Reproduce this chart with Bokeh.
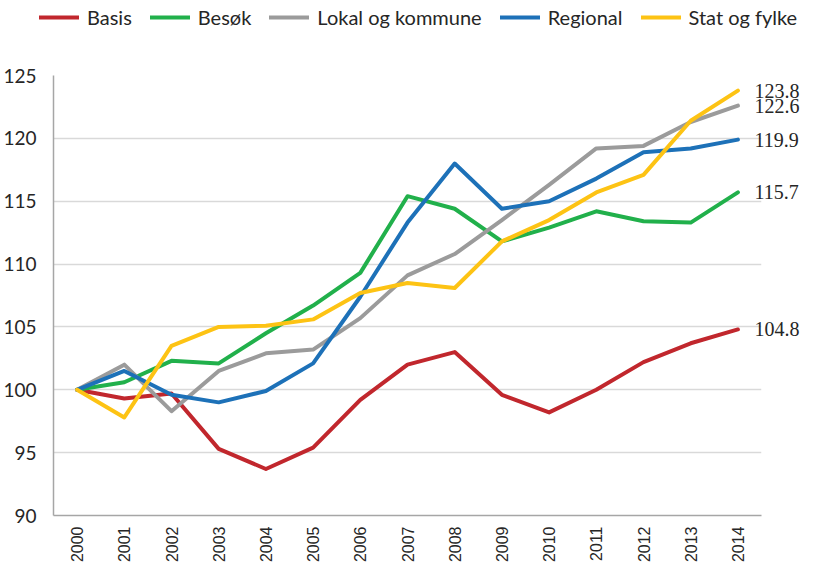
from bokeh.plotting import figure
from bokeh.models import (ColumnDataSource, Legend, LegendItem, LinearAxis,
                          FixedTicker, Range1d, FactorRange, PrintfTickFormatter)
from bokeh.embed import file_html
from bokeh.resources import INLINE
import math

years = [str(y) for y in range(2000, 2015)]

basis = [100.0, 99.3, 99.7, 95.3, 93.7, 95.4, 99.2, 102.0, 103.0, 99.6, 98.2, 100.0, 102.2, 103.7, 104.8]
besok = [100.0, 100.6, 102.3, 102.1, 104.5, 106.7, 109.3, 115.4, 114.4, 111.8, 112.9, 114.2, 113.4, 113.3, 115.7]
lokal = [100.0, 102.0, 98.3, 101.5, 102.9, 103.2, 105.7, 109.1, 110.8, 113.5, 116.3, 119.2, 119.4, 121.3, 122.6]
regional = [100.0, 101.5, 99.6, 99.0, 99.9, 102.1, 107.4, 113.3, 118.0, 114.4, 115.0, 116.8, 118.9, 119.2, 119.9]
stat = [100.0, 97.8, 103.5, 105.0, 105.1, 105.6, 107.7, 108.5, 108.1, 111.8, 113.5, 115.7, 117.1, 121.4, 123.8]

series_names = ["Basis", "Besøk", "Lokal og kommune", "Regional", "Stat og fylke"]
series_values = [basis, besok, lokal, regional, stat]
colors = ["#C1272D", "#21B04B", "#9B9B9B", "#1D71B8", "#FDC314"]
y_ticks = [90, 95, 100, 105, 110, 115, 120, 125]

sources = [ColumnDataSource(dict(x=years, y=vals)) for vals in series_values]

# ---------- main chart ----------
p = figure(x_range=FactorRange(factors=years, range_padding=0),
           y_range=Range1d(90, 125),
           width=806, height=526,
           output_backend="svg", toolbar_location=None,
           min_border_left=50, min_border_right=45,
           min_border_top=35, min_border_bottom=51)
p.outline_line_color = None
p.background_fill_color = "white"
p.border_fill_color = "white"

for src, col in zip(sources, colors):
    p.line("x", "y", source=src, line_color=col, line_width=4,
           line_cap="round", line_join="round")

# end-value labels drawn as a right-hand axis at the final values
end_values = [v[-1] for v in series_values]
end_axis = LinearAxis(ticker=FixedTicker(ticks=end_values),
                      formatter=PrintfTickFormatter(format="%.1f"),
                      axis_label=None)
end_axis.axis_label_standoff = 0
end_axis.axis_label_text_font_size = "0px"
end_axis.axis_line_color = None
end_axis.major_tick_line_color = None
end_axis.minor_tick_line_color = None
end_axis.major_tick_out = 0
end_axis.major_tick_in = 0
end_axis.minor_tick_out = 0
end_axis.minor_tick_in = 0
end_axis.major_label_standoff = -7
end_axis.major_label_text_font = "Liberation Serif"
end_axis.major_label_text_font_size = "20px"
end_axis.major_label_text_color = "#262626"
p.add_layout(end_axis, "right")

left = p.left[0]
left.ticker = FixedTicker(ticks=y_ticks)
left.major_tick_line_color = None
left.minor_tick_line_color = None
left.major_tick_out = 0
left.axis_line_color = "#A6A6A6"
left.axis_line_width = 1.5
left.major_label_text_font = "Lato"
left.major_label_text_font_size = "19px"
left.major_label_text_color = "#262626"
left.major_label_standoff = 17

bottom = p.below[0]
bottom.major_tick_line_color = None
bottom.minor_tick_line_color = None
bottom.major_tick_out = 0
bottom.axis_line_color = "#A6A6A6"
bottom.axis_line_width = 1.5
bottom.major_label_orientation = math.pi / 2
bottom.major_label_text_font = "Liberation Sans"
bottom.major_label_text_font_size = "16px"
bottom.major_label_text_color = "#262626"
bottom.major_label_standoff = 11

p.xgrid.grid_line_color = None
p.ygrid.grid_line_color = "#D9D9D9"
p.ygrid.grid_line_width = 1.5

# ---------- legend strip (separate root, lines fall outside its y range) ----------
lg = figure(width=806, height=40,
            x_range=FactorRange(factors=years, range_padding=0),
            y_range=Range1d(0, 1),
            x_axis_type=None, y_axis_type=None,
            output_backend="svg", toolbar_location=None,
            min_border_left=39, min_border_right=0,
            min_border_top=5, min_border_bottom=0)
lg.outline_line_color = None
lg.xgrid.visible = False
lg.ygrid.visible = False

items = []
for name, src, col in zip(series_names, sources, colors):
    r = lg.line("x", "y", source=src, line_color=col, line_width=4, line_cap="round")
    items.append(LegendItem(label=name, renderers=[r]))

legend = Legend(items=items, orientation="horizontal", location="top_left",
                glyph_width=40, glyph_height=20, label_height=20,
                label_standoff=8, spacing=18, padding=0, margin=0,
                background_fill_alpha=0, border_line_color=None,
                label_text_font="Lato", label_text_font_size="20px",
                label_text_color="#262626")
lg.add_layout(legend)

open("out.html", "w").write(file_html([lg, p], INLINE))
